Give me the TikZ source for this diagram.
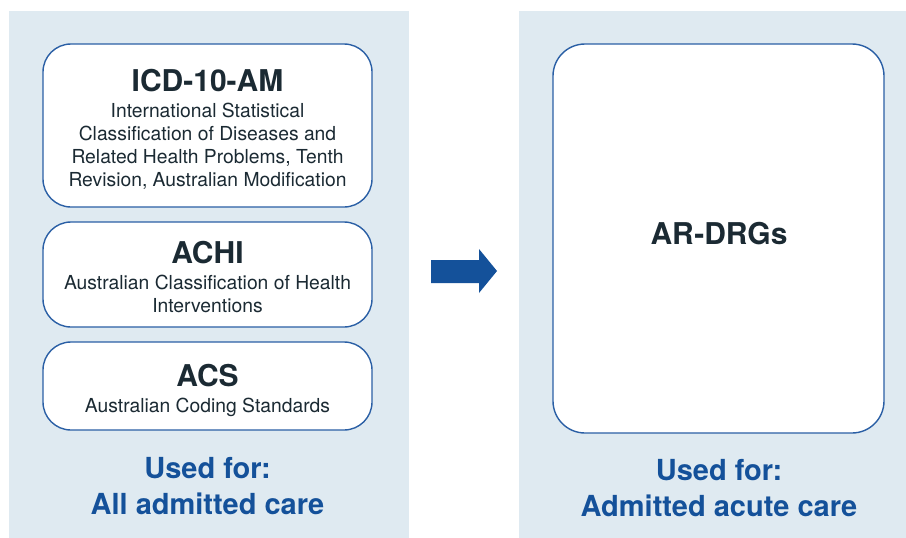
\documentclass[tikz,border=0pt]{standalone}
\usepackage{fontspec}
\setmainfont{TeX Gyre Heros}
\usetikzlibrary{positioning}
\definecolor{panelbg}{HTML}{DFEAF1}
\definecolor{boxline}{HTML}{2A5FA5}
\definecolor{darktext}{HTML}{1B2A33}
\definecolor{usedblue}{HTML}{14519A}

\begin{document}
\begin{tikzpicture}[x=1pt,y=-1pt,
    codebox/.style={draw=boxline,line width=1.4pt,fill=white,rounded corners=28pt,
        minimum width=329pt,inner sep=0pt},
    title/.style={text=darktext,anchor=base,font=\fontsize{30}{32}\selectfont\bfseries},
    desc/.style={text=darktext,anchor=base,align=center,font=\fontsize{19.3}{23}\selectfont},
    usedfor/.style={text=usedblue,anchor=base,align=center,font=\fontsize{29}{36}\selectfont\bfseries}]
\useasboundingbox (0,0) rectangle (906,538);
% panels
\fill[panelbg] (9,11) rectangle (409,538);
\fill[panelbg] (519,11) rectangle (906,538);
\begin{scope}
    \node[codebox,minimum height=163pt] (icd) at (207.5,125.5) {};
    \node[codebox,minimum height=105pt] (achi) at (207.5,274.5) {};
    \node[codebox,minimum height=88pt] (acs) at (207.5,386) {};
    \node[codebox,minimum width=331pt,minimum height=389pt,rounded corners=32pt] (drg) at (718.5,238.5) {};

    % base anchor of a multi-line node = last line
    \node[title] (icdtitle) at (207.5,91) {ICD-10-AM};
    \node[desc] (icddesc) at (207.5,186) {International Statistical\\Classification of Diseases and\\Related Health Problems, Tenth\\Revision, Australian Modification};
    \node[title] (achititle) at (207.5,263) {ACHI};
    \node[desc] (achidesc) at (207.5,312) {Australian Classification of Health\\Interventions};
    \node[title] (acstitle) at (207.5,386) {ACS};
    \node[desc] (acsdesc) at (207.5,412) {Australian Coding Standards};
    \node[title] (drgtitle) at (719,244) {AR-DRGs};

    \node[usedfor] (leftuse) at (207.5,514) {Used for:\\All admitted care};
    \node[usedfor] (rightuse) at (719,516) {Used for:\\Admitted acute care};
\end{scope}
% block arrow
\fill[usedblue] (431,260) -- (479,260) -- (479,249) -- (497,271) -- (479,293) -- (479,283) -- (431,283) -- cycle;
\end{tikzpicture}
\end{document}
